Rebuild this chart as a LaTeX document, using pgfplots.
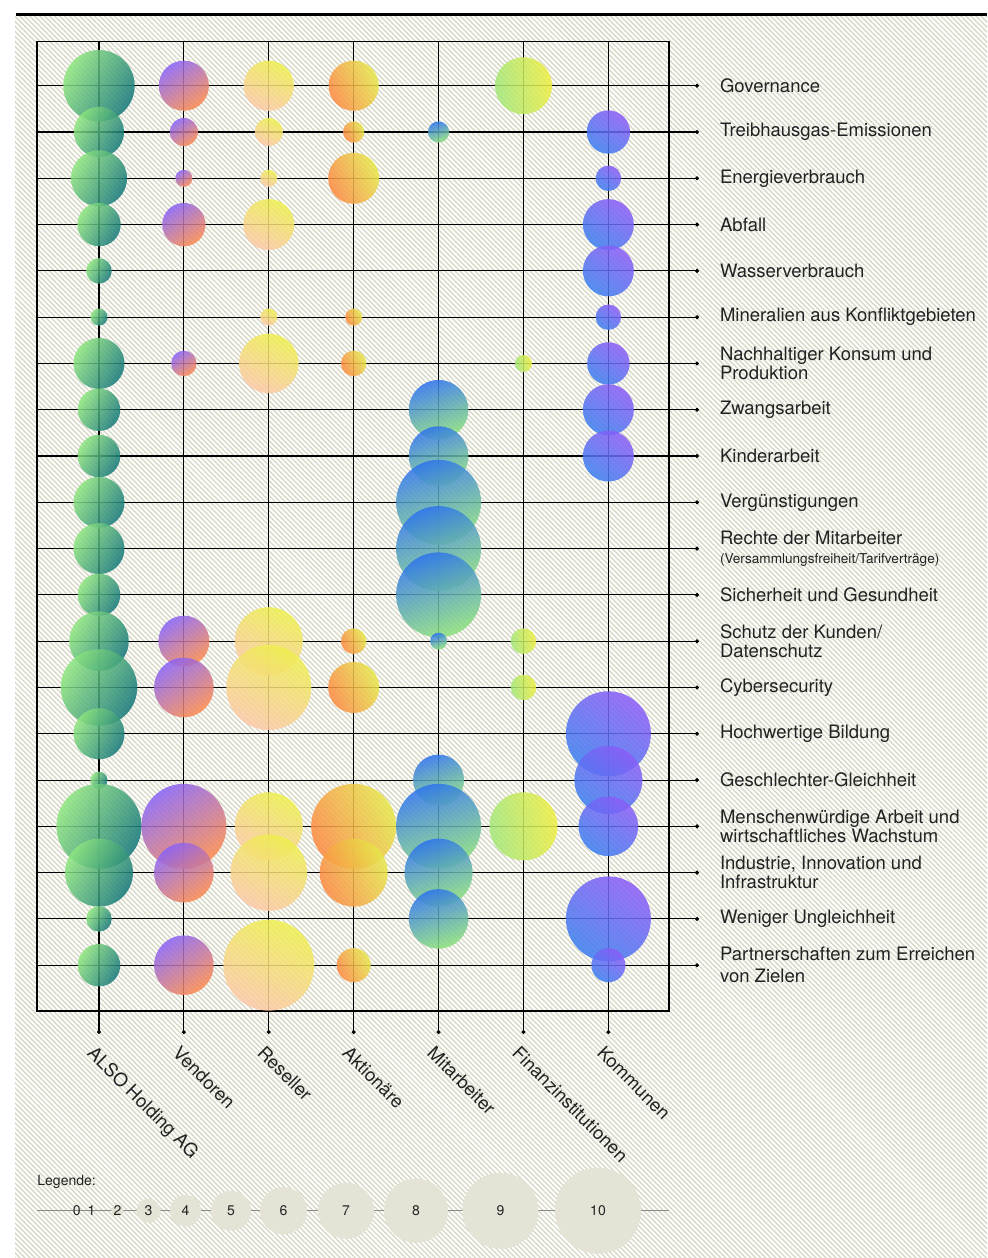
\documentclass[border=0pt]{standalone}
\usepackage{pgfplots}
\pgfplotsset{compat=1.18}
\usepackage{pgfplotstable}
\usepackage{fontspec}
\setmainfont{TeX Gyre Heros}
\usetikzlibrary{patterns.meta}

\definecolor{hatch}{RGB}{216,216,198}
\definecolor{legfill}{RGB}{228,227,214}
\definecolor{legline}{RGB}{138,138,138}
\definecolor{txt}{RGB}{34,34,34}
\definecolor{alsoA}{RGB}{143,230,127}
\definecolor{alsoB}{RGB}{18,118,121}
\definecolor{vendA}{RGB}{138,98,247}
\definecolor{vendB}{RGB}{253,138,76}
\definecolor{resA}{RGB}{238,240,78}
\definecolor{resB}{RGB}{253,200,168}
\definecolor{aktA}{RGB}{230,232,74}
\definecolor{aktB}{RGB}{253,137,66}
\definecolor{mitA}{RGB}{46,116,238}
\definecolor{mitB}{RGB}{141,226,122}
\definecolor{finA}{RGB}{238,238,64}
\definecolor{finB}{RGB}{163,231,122}
\definecolor{komA}{RGB}{139,92,248}
\definecolor{komB}{RGB}{59,127,240}

\pgfdeclareplotmark{nothing}{}

% row index (0 = Governance ... 19 = Partnerschaften), v = score (radius = 4.25 px per unit)
\pgfplotstableread{
row v
0 8.4
1 5.9
2 6.6
3 5.1
4 3
5 2
6 6
7 5
8 5
9 6
10 6
11 5
12 7
13 9
14 6
15 2
16 10
17 8
18 3
19 5
}\tabALSO
\pgfplotstableread{
row v
0 5.9
1 3.3
2 2
3 5.1
6 3
12 6
13 7
16 10
17 7
19 7
}\tabVEND
\pgfplotstableread{
row v
0 5.9
1 3.3
2 2
3 6
5 2
6 7
12 8
13 10
16 8
17 9
19 10.7
}\tabRES
\pgfplotstableread{
row v
0 5.9
1 2.5
2 6
5 2
6 3
12 3
13 6
16 10
17 8
19 4
}\tabAKT
\pgfplotstableread{
row v
1 2.5
7 7
8 7
9 10
10 10
11 10
12 2
15 6
16 10
17 8
18 7
}\tabMIT
\pgfplotstableread{
row v
0 6.7
6 2
12 3
13 3
16 8
}\tabFIN
\pgfplotstableread{
row v
1 5.1
2 3
3 6
4 6
5 3
6 5
7 6
8 6
14 10
15 8
16 7
18 10
19 4
}\tabKOM
\pgfplotstableread{
x r lab
76.8 0 0
91.5 0 1
117.4 6 2
148.5 12 3
185.5 15.6 4
231 20 5
283.5 23.6 6
346 28 7
416 32 8
500.5 38 9
598 43 10
}\legtab

\pgfplotsset{
  bubble/.style n args={3}{only marks, scatter, mark=nothing,
    visualization depends on={\thisrow{v} \as \bv},
    scatter/@pre marker code/.code={\scope
      \shade[draw=none, top color=#1, bottom color=#2, shading angle=#3, opacity=0.86] (0pt,0pt) circle[radius={2.125*\bv pt}];},
    scatter/@post marker code/.code={\endscope}},
  mainframe/.style={at={(18.5pt,-505.5pt)}, anchor=south west,
    scale only axis, width=316pt, height=484.65pt,
    xmin=-0.730, xmax=6.714},
}

\newcommand{\lblfont}{\fontsize{9.25}{9.6}\selectfont}

\begin{document}
\begin{tikzpicture}
\path[use as bounding box] (0,0) rectangle (493.5pt,-629pt);
\fill[white] (0,0) rectangle (493.5pt,-629pt);
\fill[pattern={Lines[angle=-45,distance=1.77pt,line width=0.7pt]}, pattern color=hatch] (7.5pt,-8.3pt) rectangle (493.5pt,-629pt);
\draw[line width=1.6pt, black] (7.8pt,-7.15pt) -- (493.5pt,-7.15pt);

\begin{axis}[mainframe,
  ymin=-0.951, ymax=19.99, y dir=reverse,
  clip=false,
  axis line style={line width=0.55pt, black},
  grid=major, major grid style={line width=0.55pt, black},
  xtick={0,...,6}, xticklabels={{},{},{},{},{},{},{}}, xtick style={draw=none},
  ytick={0,...,19}, ytick pos=right, yticklabel pos=right,
  tick align=outside, major tick length=14pt,
  ytick style={line width=0.55pt, black},
  yticklabels={Governance, Treibhausgas-Emissionen, Energieverbrauch, Abfall, Wasserverbrauch, Mineralien aus Konfliktgebieten, {Nachhaltiger Konsum und\\Produktion}, Zwangsarbeit, Kinderarbeit, Vergünstigungen, {Rechte der Mitarbeiter\\{\fontsize{6.8}{8}\selectfont(Versammlungsfreiheit/Tarifverträge)}}, Sicherheit und Gesundheit, {Schutz der Kunden/\\Datenschutz}, Cybersecurity, Hochwertige Bildung, Geschlechter-Gleichheit, {Menschenwürdige Arbeit und\\wirtschaftliches Wachstum}, {Industrie, Innovation und\\Infrastruktur}, Weniger Ungleichheit, {Partnerschaften zum Erreichen\\[1.3pt]von Zielen}},
  yticklabel style={anchor=west, align=left, font=\lblfont, text=txt, xshift=8pt},
]
\addplot[bubble={alsoA}{alsoB}{60}] table[x expr=0, y=row] {\tabALSO};
\addplot[bubble={vendA}{vendB}{35}] table[x expr=1, y=row] {\tabVEND};
\addplot[bubble={resA}{resB}{-25}] table[x expr=2, y=row] {\tabRES};
\addplot[bubble={aktA}{aktB}{-65}] table[x expr=3, y=row] {\tabAKT};
\addplot[bubble={mitA}{mitB}{20}] table[x expr=4, y=row] {\tabMIT};
\addplot[bubble={finA}{finB}{-80}] table[x expr=5, y=row] {\tabFIN};
\addplot[bubble={komA}{komB}{-35}] table[x expr=6, y=row] {\tabKOM};
\addplot[only marks, mark=*, mark size=0.8pt, black] coordinates {(7.044,0) (7.044,1) (7.044,2) (7.044,3) (7.044,4) (7.044,5) (7.044,6) (7.044,7) (7.044,8) (7.044,9) (7.044,10) (7.044,11) (7.044,12) (7.044,13) (7.044,14) (7.044,15) (7.044,16) (7.044,17) (7.044,18) (7.044,19)};
\end{axis}

\begin{axis}[mainframe,
  ymin=0, ymax=1, clip=false,
  axis line style={draw=none},
  ytick=\empty, xtick={0,...,6}, xtick pos=bottom,
  tick align=outside, major tick length=10.5pt,
  xtick style={line width=0.55pt, black},
  xticklabels={ALSO Holding AG, Vendoren, Reseller, Aktionäre, Mitarbeiter, Finanzinstitutionen, Kommunen},
  xticklabel style={rotate=-45, anchor=north west, font=\lblfont, text=txt, yshift=-2pt},
]
\addplot[only marks, mark=*, mark size=0.8pt, black] coordinates {(0,-0.0217) (1,-0.0217) (2,-0.0217) (3,-0.0217) (4,-0.0217) (5,-0.0217) (6,-0.0217)};
\end{axis}

\node[anchor=west, font=\fontsize{7}{8}\selectfont, text=txt, inner sep=0pt] at (18.5pt,-591pt) {Legende:};

\begin{axis}[at={(18.5pt,-605.35pt)}, anchor=west, scale only axis, width=316pt, height=40pt,
  xmin=37, xmax=669, ymin=-1, ymax=1, hide axis, clip=false]
\addplot[legline, line width=0.6pt] coordinates {(37,0) (669,0)};
\addplot[only marks, scatter, mark=nothing,
  visualization depends on={\thisrow{r} \as \lr},
  visualization depends on={\thisrow{lab} \as \llab},
  scatter/@pre marker code/.code={\scope
    \fill[legfill, draw=none] (0pt,0pt) circle[radius={0.5*\lr pt}];
    \pgfmathtruncatemacro\labint{\llab}%
    \node[font=\fontsize{7}{8}\selectfont, text=txt, inner sep=0.5pt] at (0pt,0pt) {\labint};},
  scatter/@post marker code/.code={\endscope}]
  table[x=x, y expr=0] {\legtab};
\end{axis}
\end{tikzpicture}
\end{document}
